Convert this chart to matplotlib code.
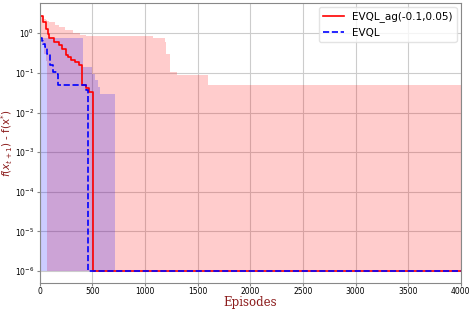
import numpy as np
import matplotlib
matplotlib.use('Agg')
import matplotlib.pyplot as plt

# best value so far, EVQL_ag(-0.1,0.05)
ag_ep = [0, 30, 57, 75, 89, 136, 184, 210, 248, 270, 295, 330, 374, 397, 440, 470, 505, 4000]
ag_val = [2.7, 1.9, 1.3, 0.95, 0.74, 0.6, 0.5, 0.4, 0.28, 0.25, 0.21, 0.19, 0.155, 0.049, 0.042, 0.033, 1e-6, 1e-6]

# range of the runs, EVQL_ag
ag_band_ep = [0, 20, 40, 60, 73, 89, 140, 184, 240, 311, 380, 438, 1076, 1190, 1200, 1238, 1302, 1603, 4000]
ag_high = [2.7, 2.5, 2.3, 2.1, 2.0, 1.9, 1.66, 1.45, 1.2, 1.0, 0.9, 0.85, 0.74, 0.6, 0.3, 0.107, 0.09, 0.049, 0.049]
ag_low = [0.75, 0.5, 0.3, 0.2, 1e-6, 1e-6, 1e-6, 1e-6, 1e-6, 1e-6, 1e-6, 1e-6, 1e-6, 1e-6, 1e-6, 1e-6, 1e-6, 1e-6, 1e-6]

# best value so far, EVQL
ev_ep = [0, 20, 35, 48, 70, 95, 127, 159, 174, 435, 458, 4000]
ev_val = [0.74, 0.62, 0.52, 0.46, 0.3, 0.155, 0.107, 0.095, 0.049, 0.036, 1e-6, 1e-6]

# range of the runs, EVQL
ev_band_ep = [0, 412, 492, 525, 555, 571, 714, 4000]
ev_high = [0.74, 0.14, 0.095, 0.066, 0.045, 0.03, 1e-6, 1e-6]
ev_low = [1e-6, 1e-6, 1e-6, 1e-6, 1e-6, 1e-6, 1e-6, 1e-6]

fig = plt.figure(figsize=(4.74, 3.10), dpi=100)
ax = fig.add_axes([0.084, 0.087, 0.888, 0.903])

ax.fill_between(ag_band_ep, ag_low, ag_high, step='post', color='red', alpha=0.2, linewidth=0)
ax.fill_between(ev_band_ep, ev_low, ev_high, step='post', color='blue', alpha=0.2, linewidth=0)
ax.plot(ag_ep, ag_val, color='red', drawstyle='steps-post', linewidth=1.2, label='EVQL_ag(-0.1,0.05)')
ax.plot(ev_ep, ev_val, color='blue', linestyle='--', drawstyle='steps-post', linewidth=1.2, label='EVQL')

ax.set_yscale('log')
ax.set_xlim(0, 4000)
ax.set_ylim(10 ** -6.3, 10 ** 0.76)
ax.set_yticks([1e-6, 1e-5, 1e-4, 1e-3, 1e-2, 1e-1, 1e0])
ax.minorticks_off()
ax.grid(True, color='#cccccc', linewidth=0.8)
ax.set_axisbelow(True)
for s in ax.spines.values():
    s.set_color('#888888')
ax.tick_params(labelsize=5.5, length=2.5, color='#888888')
ax.tick_params(axis='x', pad=0.5)
ax.tick_params(axis='y', pad=1.5)

ax.set_xlabel('Episodes', family='DejaVu Serif', fontsize=8.5, color='#8b1a1a')
ax.xaxis.set_label_coords(0.5, -0.046)
ax.set_ylabel(r'$f(x_{t+1})$ - f(x$^{*}$)', fontsize=7.5, color='#8b1a1a')
ax.yaxis.set_label_coords(-0.058, 0.5)
ax.legend(loc='upper right', fontsize=7.5, framealpha=0.8, edgecolor='#dddddd', borderaxespad=0.4)

fig.savefig('out.png', dpi=100)
